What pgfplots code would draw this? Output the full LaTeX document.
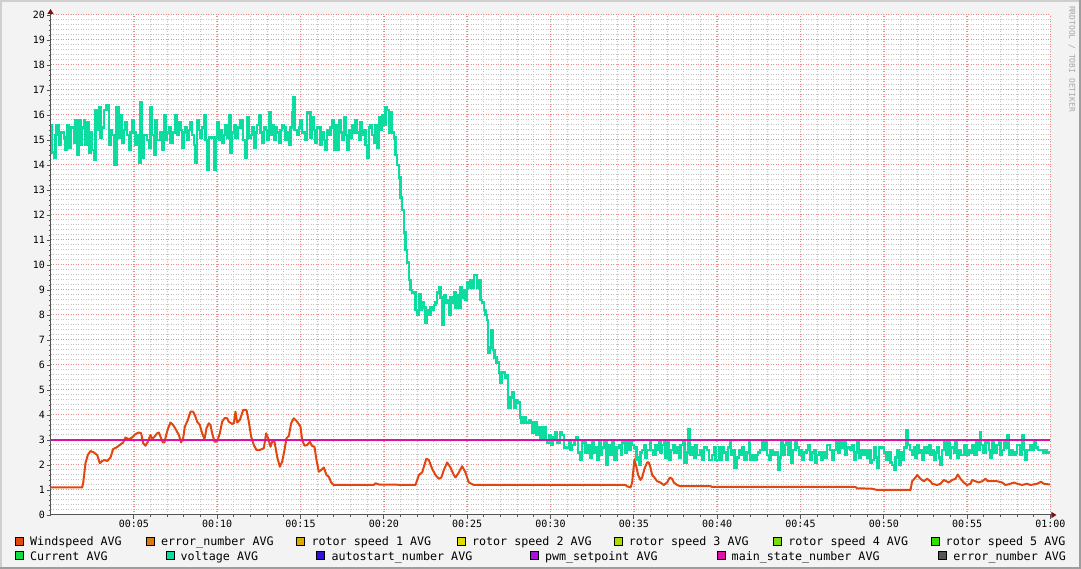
\documentclass[border=0pt]{standalone}
\usepackage{pgfplots}
\pgfplotsset{compat=1.18}
\usepackage{fontspec}
\setmainfont{DejaVu Sans Mono}
\usetikzlibrary{arrows.meta}

\definecolor{bgcol}{HTML}{F3F3F3}
\definecolor{shadeA}{HTML}{CFCFCF}
\definecolor{shadeB}{HTML}{9E9E9E}
\definecolor{gridcol}{HTML}{C4C4C4}
\definecolor{mgridcol}{HTML}{EC8A8A}
\definecolor{axiscol}{HTML}{555555}
\definecolor{arrowcol}{HTML}{801010}
\definecolor{wmcol}{HTML}{A8A8A8}
\definecolor{c1}{HTML}{E2470F}
\definecolor{c2}{HTML}{DD7711}
\definecolor{c3}{HTML}{DDAA00}
\definecolor{c4}{HTML}{DDDD00}
\definecolor{c5}{HTML}{AADD00}
\definecolor{c6}{HTML}{77DD11}
\definecolor{c7}{HTML}{33DD00}
\definecolor{c8}{HTML}{11DD44}
\definecolor{c9}{HTML}{0CDCA0}
\definecolor{c10}{HTML}{3311DD}
\definecolor{c11}{HTML}{AA11DD}
\definecolor{c12}{HTML}{DD11AA}
\definecolor{c13}{HTML}{555555}

% time in minutes after 00:00
\pgfplotstableread{
t v
0.0 15.6
0.1 14.5
0.2 14.3
0.3 15.2
0.36 15.6
0.5 14.8
0.6 15.3
0.8 15.1
0.9 14.6
1.0 15.6
1.1 14.7
1.24 15.5
1.4 14.9
1.5 15.8
1.6 14.4
1.7 15.8
1.8 14.8
1.9 15.5
2.0 15.8
2.06 14.8
2.16 15.7
2.3 14.5
2.4 15.3
2.5 14.6
2.6 14.2
2.7 16.2
2.84 15.4
2.9 16.3
3.0 15.1
3.1 15.5
3.2 16.2
3.36 16.4
3.5 14.8
3.6 15.4
3.7 15.2
3.8 14.0
3.96 16.3
4.1 15.1
4.2 16.0
4.3 14.9
4.4 15.4
4.5 15.7
4.6 15.2
4.7 14.6
4.8 15.3
4.9 15.8
5.0 15.3
5.1 14.8
5.2 15.2
5.3 14.1
5.4 16.5
5.5 14.3
5.6 15.2
5.8 15.0
5.9 14.7
6.0 16.3
6.1 15.2
6.2 14.4
6.3 15.8
6.4 15.0
6.6 15.3
6.7 14.6
6.8 16.0
6.9 15.0
7.0 15.3
7.1 15.5
7.2 14.9
7.36 15.3
7.5 16.0
7.6 15.2
7.7 15.7
7.8 15.4
7.9 14.7
8.0 15.3
8.1 15.5
8.2 15.0
8.3 15.4
8.4 15.7
8.5 15.2
8.6 14.8
8.7 14.1
8.8 15.8
8.9 15.4
9.0 15.1
9.1 15.5
9.2 16.0
9.3 15.0
9.4 13.8
9.5 15.1
9.7 15.1
9.8 13.8
9.9 15.1
10.0 15.7
10.1 15.0
10.2 15.4
10.3 14.9
10.4 15.2
10.5 15.6
10.6 15.1
10.7 16.0
10.8 14.5
10.9 15.3
11.0 15.6
11.1 15.1
11.24 15.5
11.4 15.8
11.56 15.0
11.7 14.3
11.8 15.9
11.9 15.1
12.0 15.2
12.1 15.5
12.2 14.7
12.3 15.3
12.4 15.6
12.5 16.0
12.6 15.3
12.7 14.9
12.8 15.5
12.9 15.4
13.0 15.0
13.1 16.1
13.2 15.2
13.3 15.6
13.4 15.0
13.5 15.5
13.6 15.3
13.7 14.9
13.8 15.4
13.9 15.6
14.0 15.5
14.1 15.0
14.2 15.3
14.3 14.8
14.4 15.5
14.5 16.1
14.56 16.7
14.65 15.4
14.8 15.2
14.9 15.5
15.0 15.8
15.1 15.3
15.3 15.0
15.4 16.1
15.6 15.1
15.7 15.9
15.8 15.4
15.9 14.9
16.0 15.5
16.2 14.8
16.3 15.3
16.4 15.0
16.5 14.6
16.6 15.4
16.7 15.2
16.8 15.5
16.9 15.8
17.0 14.6
17.1 15.6
17.2 14.6
17.3 15.8
17.4 15.3
17.5 15.0
17.6 15.9
17.7 15.2
17.8 14.6
17.9 15.4
18.0 15.1
18.1 15.6
18.2 15.3
18.3 15.8
18.4 15.3
18.5 15.0
18.6 15.7
18.7 15.2
18.8 15.4
18.9 14.8
19.0 14.3
19.1 15.5
19.2 15.6
19.3 15.2
19.4 14.9
19.5 15.6
19.6 14.7
19.7 15.9
19.8 15.4
19.9 16.0
20.0 15.6
20.1 16.3
20.2 16.2
20.3 15.3
20.4 16.1
20.5 15.3
20.6 15.1
20.7 14.4
20.8 14.0
20.9 13.5
21.0 12.7
21.1 12.2
21.2 11.3
21.3 10.6
21.4 10.1
21.5 9.4
21.6 9.0
21.7 8.9
21.8 8.9
21.9 8.2
22.0 8.0
22.1 8.85
22.2 8.2
22.3 8.5
22.4 8.3
22.5 7.7
22.6 8.2
22.7 8.0
22.8 8.3
22.9 8.2
23.0 8.4
23.1 8.5
23.2 8.9
23.3 9.1
23.4 8.7
23.5 7.6
23.6 8.8
23.7 8.5
23.8 8.6
23.9 8.0
24.0 8.7
24.1 8.5
24.2 8.9
24.3 8.3
24.4 8.8
24.5 8.3
24.6 9.1
24.7 8.7
24.8 9.0
24.9 8.6
25.0 9.3
25.1 9.1
25.2 9.4
25.3 9.1
25.4 9.6
25.54 9.6
25.6 9.1
25.7 9.4
25.8 8.6
25.9 8.5
26.0 8.2
26.1 8.0
26.2 7.8
26.26 6.5
26.34 6.7
26.46 7.4
26.54 6.6
26.64 6.3
26.76 6.1
26.9 5.7
27.0 5.3
27.1 5.7
27.26 5.5
27.36 5.6
27.46 4.3
27.6 4.7
27.7 4.9
27.8 4.3
27.94 4.6
28.06 4.5
28.16 3.9
28.26 3.7
28.4 3.9
28.54 3.7
28.7 3.8
28.8 3.7
28.9 3.3
29.04 3.7
29.16 3.2
29.3 3.5
29.4 3.0
29.56 3.5
29.7 3.0
29.8 2.9
29.9 3.2
30.04 2.8
30.16 3.1
30.3 3.3
30.4 2.9
30.56 3.3
30.7 3.2
30.8 2.7
31.0 2.7
31.1 2.9
31.2 2.6
31.3 2.8
31.44 3.0
31.56 3.1
31.66 2.5
31.76 2.2
31.9 2.9
32.0 3.0
32.1 2.5
32.24 2.8
32.36 2.3
32.5 3.0
32.6 2.5
32.7 2.7
32.8 2.2
32.9 2.9
33.0 2.4
33.1 2.7
33.24 3.0
33.36 2.0
33.46 2.8
33.6 2.4
33.7 2.9
33.8 2.2
33.96 2.7
34.1 2.8
34.24 2.4
34.3 2.9
34.4 3.0
34.5 2.5
34.6 2.9
34.7 2.6
34.8 3.0
34.9 2.8
35.0 2.7
35.16 2.2
35.24 2.3
35.3 2.0
35.4 2.5
35.5 2.6
35.6 2.8
35.7 2.3
35.8 2.6
35.96 2.9
36.04 2.6
36.16 2.4
36.3 2.8
36.4 2.6
36.5 2.9
36.6 2.5
36.7 2.8
36.8 3.0
36.9 2.3
37.0 2.9
37.1 2.2
37.2 2.6
37.36 2.8
37.44 2.5
37.6 2.7
37.7 2.3
37.8 2.8
37.96 3.0
38.04 2.1
38.16 2.5
38.24 3.45
38.36 2.4
38.5 2.7
38.6 2.3
38.7 2.8
38.8 2.4
39.0 2.6
39.1 2.2
39.2 2.7
39.4 2.6
39.5 2.2
39.7 2.4
39.8 2.7
39.9 2.2
40.1 2.7
40.2 2.2
40.3 2.7
40.4 2.5
40.56 2.2
40.64 2.7
40.76 3.0
40.84 2.4
40.96 2.6
41.04 1.9
41.16 2.3
41.3 2.6
41.4 2.4
41.5 2.7
41.6 2.2
41.76 2.5
41.9 3.0
41.96 2.2
42.1 2.4
42.2 2.2
42.36 2.4
42.44 2.5
42.56 2.6
42.7 3.0
42.8 2.6
42.9 2.9
43.0 2.4
43.1 2.2
43.2 2.6
43.36 2.4
43.5 2.5
43.64 1.8
43.76 2.3
43.84 3.0
43.92 2.4
44.04 2.8
44.16 3.0
44.24 2.4
44.36 3.0
44.44 2.1
44.56 2.6
44.7 3.0
44.8 2.7
44.9 2.4
45.0 2.6
45.1 2.2
45.2 2.5
45.36 2.6
45.44 2.8
45.56 2.2
45.7 2.5
45.8 2.6
45.9 2.1
46.0 2.4
46.1 2.5
46.24 2.2
46.36 2.5
46.5 2.3
46.6 2.8
46.76 2.6
46.9 2.2
47.0 2.6
47.16 2.9
47.24 2.5
47.36 3.0
47.5 2.7
47.6 3.0
47.7 2.4
47.8 2.7
47.96 2.6
48.1 2.8
48.2 2.2
48.3 2.5
48.4 3.0
48.5 2.3
48.6 2.6
48.76 2.4
48.9 2.6
49.0 2.3
49.1 2.6
49.2 2.1
49.3 2.2
49.4 2.7
49.5 2.3
49.6 1.9
49.7 2.7
49.9 2.7
50.0 2.5
50.16 2.2
50.3 2.5
50.4 2.1
50.5 2.0
50.6 1.8
50.7 2.3
50.8 2.6
50.9 2.0
51.0 2.5
51.1 2.2
51.2 2.7
51.36 3.4
51.44 2.8
51.56 2.6
51.7 2.4
51.8 2.7
51.9 2.3
52.0 2.8
52.1 2.5
52.2 2.6
52.3 2.2
52.4 2.7
52.56 2.5
52.7 2.8
52.8 2.4
52.9 2.6
53.0 2.2
53.1 2.5
53.2 2.7
53.3 2.3
53.4 2.0
53.5 2.6
53.64 3.0
53.76 2.4
53.84 3.0
53.96 2.3
54.04 2.7
54.2 2.5
54.3 2.9
54.4 2.3
54.5 2.6
54.64 2.4
54.8 2.8
54.96 2.4
55.1 2.6
55.2 2.5
55.3 2.8
55.44 2.4
55.56 2.9
55.64 2.6
55.76 3.3
55.84 2.8
55.96 2.5
56.1 2.9
56.2 3.0
56.3 2.6
56.4 2.3
56.5 3.0
56.6 2.5
56.76 2.8
56.9 3.0
57.0 2.4
57.1 2.6
57.2 3.0
57.3 2.7
57.4 3.2
57.5 2.4
57.6 2.6
57.76 2.4
57.9 2.5
58.0 2.8
58.16 2.4
58.3 3.2
58.4 2.6
58.5 2.2
58.6 2.6
58.76 2.8
58.9 2.6
59.0 3.0
59.1 2.7
59.24 2.6
59.4 2.6
59.56 2.5
59.7 2.6
59.8 2.5
59.96 2.5
}\voltage

\pgfplotstableread{
t w
0 1.1
1.9 1.1
1.96 1.27
2.1 2.07
2.24 2.4
2.4 2.56
2.6 2.5
2.8 2.4
2.96 2.07
3.1 2.16
3.24 2.2
3.4 2.16
3.6 2.3
3.76 2.64
3.96 2.7
4.16 2.8
4.36 2.9
4.5 3.1
4.7 3.03
4.9 3.1
5.1 3.24
5.3 3.3
5.44 3.27
5.56 2.87
5.7 2.77
5.84 2.93
6.0 3.2
6.1 3.04
6.24 3.13
6.4 3.27
6.5 3.3
6.64 3.07
6.74 2.9
6.84 2.9
6.94 3.2
7.06 3.47
7.2 3.7
7.36 3.6
7.54 3.4
7.7 3.2
7.84 2.9
7.96 3.07
8.06 3.53
8.24 3.8
8.4 4.13
8.56 4.13
8.7 3.93
8.8 3.73
8.96 3.6
9.1 3.27
9.24 3.03
9.36 3.47
9.5 3.67
9.6 3.6
9.7 3.27
9.84 2.93
10.0 2.93
10.16 3.27
10.3 3.73
10.44 3.87
10.6 3.87
10.7 3.73
10.9 3.64
11.0 3.67
11.1 4.13
11.2 3.7
11.36 3.8
11.56 4.2
11.76 4.2
11.9 3.73
12.04 3.13
12.2 2.8
12.36 2.6
12.56 2.6
12.8 2.67
12.94 3.27
13.06 3.07
13.2 2.73
13.3 2.93
13.44 2.93
13.6 2.33
13.76 1.93
13.9 2.13
14.04 2.6
14.16 3.07
14.3 3.16
14.44 3.67
14.6 3.87
14.8 3.73
15.0 3.53
15.1 3.0
15.24 2.77
15.4 2.8
15.56 2.93
15.7 2.76
15.84 2.73
15.96 2.2
16.1 1.73
16.24 1.8
16.4 1.9
16.56 1.6
16.7 1.53
16.84 1.3
17.0 1.2
19.4 1.2
19.5 1.27
19.7 1.22
21.9 1.2
22.1 1.6
22.3 1.7
22.55 2.25
22.7 2.2
22.9 1.85
23.1 1.6
23.3 1.45
23.45 1.5
23.6 1.8
23.8 2.1
24.0 1.9
24.2 1.6
24.3 1.5
24.5 1.7
24.7 1.95
24.9 1.7
25.1 1.3
25.4 1.2
34.5 1.2
34.6 1.15
34.8 1.1
34.9 1.3
35.04 2.23
35.16 1.9
35.26 1.6
35.4 1.4
35.5 1.5
35.64 1.85
35.8 2.1
35.9 2.1
36.0 1.9
36.1 1.6
36.24 1.5
36.4 1.35
36.6 1.3
36.8 1.2
37.0 1.3
37.16 1.5
37.3 1.45
37.4 1.3
37.6 1.2
37.8 1.15
39.6 1.15
39.7 1.12
48.3 1.12
48.4 1.07
49.3 1.05
49.6 1.0
51.6 1.0
51.7 1.35
51.9 1.5
52.0 1.6
52.2 1.45
52.4 1.35
52.6 1.45
52.8 1.35
52.9 1.25
53.2 1.2
53.4 1.25
53.6 1.4
53.76 1.35
53.9 1.3
54.1 1.4
54.3 1.45
54.44 1.62
54.6 1.45
54.8 1.3
55.0 1.2
55.2 1.25
55.3 1.4
55.5 1.35
55.7 1.3
55.9 1.35
56.1 1.45
56.24 1.35
56.8 1.35
57.1 1.3
57.3 1.2
57.6 1.25
57.8 1.3
58.0 1.25
58.3 1.2
58.6 1.25
58.8 1.2
59.2 1.25
59.44 1.33
59.6 1.25
59.96 1.22
}\windspeed

\begin{document}
\begin{tikzpicture}[x=1bp,y=1bp]
\fill[bgcol] (0,0) rectangle (1081,569);
\fill[shadeA] (0,0) rectangle (2,569);
\fill[shadeA] (0,567) rectangle (1081,569);
\fill[shadeB] (1079,0) rectangle (1081,569);
\fill[shadeB] (0,0) rectangle (1081,2);
\path[use as bounding box] (0,0) rectangle (1081,569);

\begin{axis}[
at={(50.5bp,54bp)}, anchor=south west,
scale only axis, width=1000bp, height=500bp,
xmin=0, xmax=60, ymin=0, ymax=20,
axis background/.style={fill=white},
axis lines=left,
axis line style={draw=axiscol, line width=1bp},
x axis line style={-{Triangle[length=5bp,width=6bp,color=arrowcol]}, shorten >=-6bp},
y axis line style={-{Triangle[length=5bp,width=6bp,color=arrowcol]}, shorten >=-6bp},
xtick={5,10,...,60},
xticklabels={00:05,00:10,00:15,00:20,00:25,00:30,00:35,00:40,00:45,00:50,00:55,01:00},
minor x tick num=4,
ytick={0,1,...,20},
minor y tick num=4,
grid=both,
major grid style={draw=mgridcol, line width=1bp, dash pattern=on 1bp off 1.5bp},
minor grid style={draw=gridcol, line width=1bp, dash pattern=on 1bp off 1.5bp},
major x grid style={draw=mgridcol, line width=1.4bp, dash pattern=on 1bp off 1.5bp},
tick align=outside,
major tick length=4bp, minor tick length=2bp,
tick style={draw=axiscol, line width=0.8bp},
ticklabel style={font=\fontsize{10bp}{12bp}\selectfont, inner sep=0pt, text=black},
xticklabel style={yshift=-1bp},
yticklabel style={xshift=-1.5bp},
/pgf/number format/assume math mode=true,
]
\addplot[c1, line width=2bp, line join=round] table[x=t, y=w] {\windspeed};
\addplot[c9, const plot, line width=2.4bp] table[x=t, y=v] {\voltage};
\addplot[c12, line width=2bp] coordinates {(0,3) (60,3)};
\end{axis}

\node[rotate=-90, text=wmcol, font=\fontsize{8bp}{9bp}\selectfont, inner sep=0pt] at (1072,510) {RRDTOOL / TOBI OETIKER};

\tikzset{lb/.style={draw=black, line width=0.8bp},
         lt/.style={anchor=base west, inner sep=0pt, font=\fontsize{11.7bp}{13bp}\selectfont}}
% row 1
\foreach \x/\c/\t in {15.5/c1/Windspeed AVG, 146.3/c2/error\_number AVG, 296.8/c3/rotor speed 1 AVG, 457.3/c4/rotor speed 2 AVG, 614.2/c5/rotor speed 3 AVG, 773.6/c6/rotor speed 4 AVG, 931/c7/rotor speed 5 AVG}{
  \filldraw[lb, fill=\c] (\x,23.6) rectangle ++(8,8);
  \node[lt] at (\x+14.5,23.2) {\t};
}
% row 2
\foreach \x/\c/\t in {15.5/c8/Current AVG, 166/c9/voltage AVG, 316.8/c10/autostart\_number AVG, 530.3/c11/pwm\_setpoint AVG, 717/c12/main\_state\_number AVG, 938.6/c13/error\_number AVG}{
  \filldraw[lb, fill=\c] (\x,9.1) rectangle ++(8,8);
  \node[lt] at (\x+14.5,8.7) {\t};
}
\end{tikzpicture}
\end{document}
